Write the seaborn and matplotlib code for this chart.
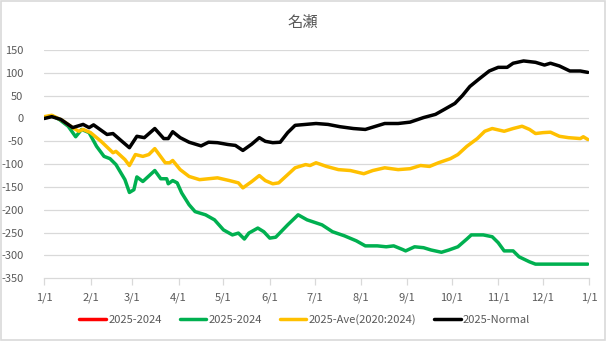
import matplotlib
matplotlib.use("Agg")
import matplotlib.pyplot as plt
from matplotlib.patches import Rectangle
import numpy as np
import pandas as pd
import seaborn as sns

# Cumulative differences for 名瀬 (day of year -> value)
red_days = []
red_vals = []

green_days = [0, 5, 10, 16, 21, 25, 30, 35, 40, 44, 48, 54, 57, 60, 62, 66, 74, 78, 82, 83,
              86, 89, 92, 97, 101, 108, 114, 120, 126, 130, 134, 137, 143, 147, 151, 155,
              163, 170, 176, 186, 193, 201, 209, 215, 223, 229, 234, 240, 242, 248, 254,
              259, 266, 271, 277, 283, 286, 294, 300, 304, 308, 314, 318, 325, 329, 333, 364]
green_vals = [2, 6, -2, -17, -40, -24, -31, -61, -83, -88, -101, -134, -162, -156, -128, -138,
              -114, -132, -132, -143, -136, -141, -163, -189, -204, -211, -222, -244, -255,
              -251, -264, -251, -240, -248, -262, -260, -233, -211, -222, -233, -248, -257,
              -268, -279, -279, -281, -279, -287, -290, -281, -283, -288, -293, -288, -281,
              -264, -255, -255, -259, -272, -290, -290, -303, -314, -319, -319, -319]

yellow_days = [0, 5, 12, 19, 23, 26, 31, 38, 46, 48, 54, 57, 61, 66, 70, 74, 81, 84, 86, 91,
               97, 104, 110, 116, 124, 130, 133, 139, 144, 148, 153, 157, 163, 168, 175, 178,
               182, 189, 197, 205, 214, 220, 228, 237, 245, 252, 258, 264, 272, 277, 283, 290,
               295, 300, 308, 314, 320, 325, 329, 334, 339, 345, 351, 359, 361, 364]
yellow_vals = [4, 7, -4, -20, -28, -24, -31, -50, -75, -72, -90, -103, -79, -83, -79, -66, -97,
               -97, -92, -112, -127, -134, -132, -130, -136, -141, -152, -138, -125, -136,
               -143, -141, -123, -108, -101, -103, -97, -105, -112, -114, -121, -114, -108,
               -112, -110, -103, -105, -97, -88, -79, -61, -44, -28, -22, -28, -22, -17, -24,
               -33, -31, -30, -39, -42, -44, -40, -46]

black_days = [0, 5, 11, 19, 26, 30, 33, 42, 46, 52, 57, 62, 67, 74, 80, 83, 86, 91, 97, 105,
              110, 116, 123, 128, 133, 139, 144, 148, 153, 158, 163, 168, 175, 182, 190, 198,
              207, 215, 221, 228, 237, 245, 254, 262, 268, 275, 280, 285, 291, 298, 304, 310,
              314, 321, 329, 335, 339, 345, 352, 359, 364]
black_vals = [0, 4, -2, -20, -13, -20, -14, -35, -33, -50, -64, -39, -42, -22, -44, -44, -29,
              -42, -52, -60, -52, -53, -57, -59, -70, -56, -42, -50, -53, -52, -31, -15, -13,
              -11, -13, -18, -22, -24, -18, -11, -11, -8, 2, 9, 20, 33, 50, 70, 86, 104, 112,
              112, 121, 126, 123, 117, 121, 115, 104, 104, 101]

series_labels = ["2025-2024", "2025-2024", "2025-Ave(2020:2024)", "2025-Normal"]
series_colors = ["#FF0000", "#00B050", "#FFC000", "#000000"]
tick_labels = ["1/1", "2/1", "3/1", "4/1", "5/1", "6/1", "7/1", "8/1", "9/1", "10/1",
               "11/1", "12/1", "1/1"]
y_ticks = [150, 100, 50, 0, -50, -100, -150, -200, -250, -300, -350]
title = "名瀬"

start = pd.Timestamp("2025-01-01")


def frame(days, vals):
    return pd.DataFrame({"date": start + pd.to_timedelta(np.array(days, dtype=float), unit="D"),
                         "value": np.array(vals, dtype=float)})


sns.set_theme(style="white")
plt.rcParams["font.family"] = ["Noto Sans CJK JP", "DejaVu Sans"]

fig = plt.figure(figsize=(6.06, 3.41), dpi=100)
ax = fig.add_axes([0.0731, 0.1839, 0.8993, 0.6695])

grid_c = "#D9D9D9"
text_c = "#595959"
lw = 2.5

# red series has no data but keeps its legend entry
ax.plot([], [], color=series_colors[0], lw=lw, label=series_labels[0])
for (d, v), lab, col in zip([(green_days, green_vals), (yellow_days, yellow_vals),
                             (black_days, black_vals)],
                            series_labels[1:], series_colors[1:]):
    sns.lineplot(data=frame(d, v), x="date", y="value", ax=ax, color=col,
                 linewidth=lw, label=lab, solid_joinstyle="round", solid_capstyle="round")

ax.set_ylim(-350, 150)
ax.set_yticks(y_ticks)
ax.set_yticklabels([str(t) for t in y_ticks])
ax.set_xlim(start, pd.Timestamp("2026-01-01"))
ticks = pd.date_range("2025-01-01", "2026-01-01", freq="MS")
ax.set_xticks(ticks)
ax.set_xticklabels(tick_labels)
ax.set_xlabel("")
ax.set_ylabel("")

for y in y_ticks[:-1]:
    ax.axhline(y, color=grid_c, lw=0.9, zorder=0)

for s in ["top", "right", "left"]:
    ax.spines[s].set_visible(False)
ax.spines["bottom"].set_color(grid_c)
ax.spines["bottom"].set_linewidth(0.9)
ax.tick_params(axis="x", which="both", bottom=True, length=5, width=0.9, color=grid_c,
               labelsize=8, labelcolor=text_c, pad=5)
ax.tick_params(axis="y", left=False, labelsize=8, labelcolor=text_c, pad=9)

fig.text(0.5, 0.935, title, ha="center", va="center", fontsize=11, color=text_c)

handles, labels = ax.get_legend_handles_labels()
leg = fig.legend(handles, labels, loc="center", bbox_to_anchor=(0.503, 0.062), ncol=4,
                 frameon=False, fontsize=8, handlelength=2.4, handletextpad=0.2,
                 columnspacing=1.6, labelcolor=text_c)
if ax.get_legend() is not None:
    ax.get_legend().remove()

fig.patches.append(Rectangle((0.001, 0.002), 0.997, 0.995, transform=fig.transFigure,
                             fill=False, edgecolor=grid_c, lw=1.2))

fig.savefig("out.png", dpi=100)
